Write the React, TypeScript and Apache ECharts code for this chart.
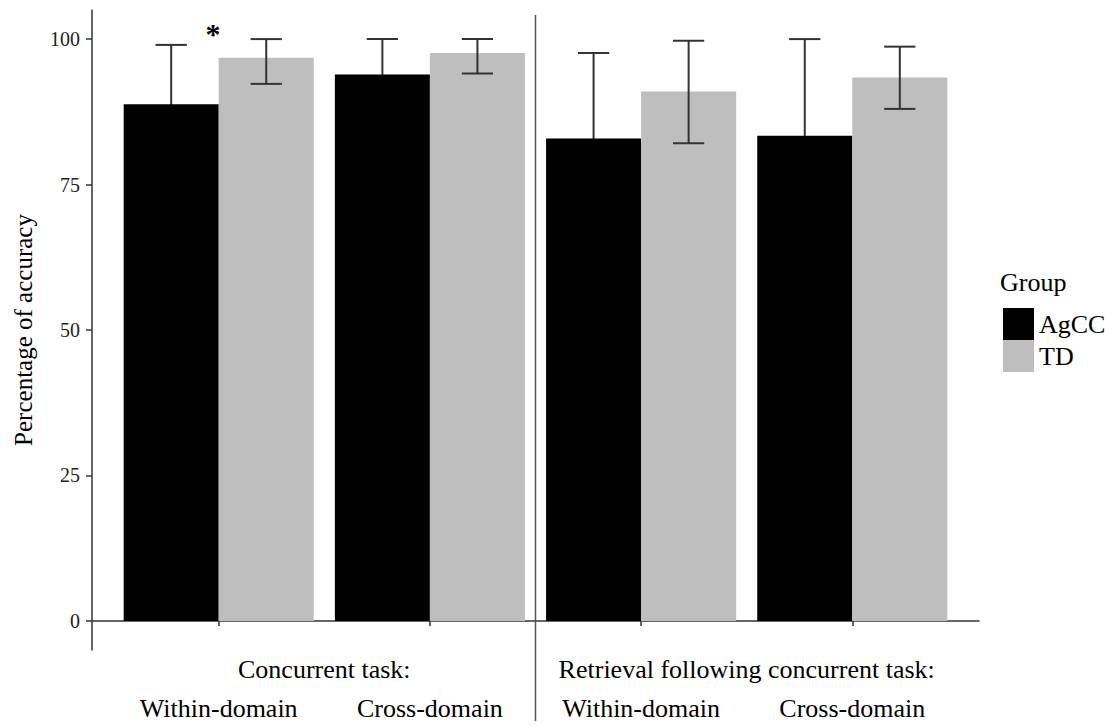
import React, { useEffect, useRef } from "react";
import * as echarts from "echarts";

const categories = ["Within-domain", "Cross-domain", "Within-domain", "Cross-domain"];
const categoryPositions = [1, 2, 3, 4];
const taskGroups = ["Concurrent task:", "Retrieval following concurrent task:"];
const taskGroupPositions = [1.5, 3.5];
const groupNames = ["AgCC", "TD"];
const groupColors = ["#000000", "#bebebe"];
const agccMean = [88.8, 93.9, 82.9, 83.4];
const agccLow = [78.6, 87.8, 68.2, 66.8];
const agccHigh = [99.0, 100, 97.6, 100];
const tdMean = [96.8, 97.6, 91.0, 93.4];
const tdLow = [92.3, 94.1, 82.1, 88.0];
const tdHigh = [100, 100, 99.7, 98.7];
const yTicks = [0, 25, 50, 75, 100];
const separatorAt = 2.5;
const significance = "*";

const FONT = "Liberation Serif";
const BAR_W = 0.45;
const CAP_HALF = 0.074;
const ERR_COLOR = "#333333";
const AXIS_COLOR = "#333333";

export default function App() {
  const ref = useRef<HTMLDivElement>(null);

  useEffect(() => {
    if (!ref.current) return;
    document.body.style.margin = "0";
    const chart = echarts.init(ref.current, undefined, { renderer: "svg" });

    const means = [agccMean, tdMean];
    const lows = [agccLow, tdLow];
    const highs = [agccHigh, tdHigh];
    const offsets = [-BAR_W, 0];
    const errZ = [1, 5];

    const barSeries = groupNames.map((name, g) => ({
      type: "custom",
      name,
      xAxisIndex: 0,
      yAxisIndex: 0,
      z: 2,
      itemStyle: { color: groupColors[g] },
      encode: { x: 0, y: 1 },
      data: categoryPositions.map((p, i) => [p, means[g][i]]),
      renderItem: (params: any, api: any) => {
        const x = api.value(0) as number;
        const v = api.value(1) as number;
        const tl = api.coord([x + offsets[g], v]);
        const br = api.coord([x + offsets[g] + BAR_W, 0]);
        return {
          type: "rect",
          shape: { x: tl[0], y: tl[1], width: br[0] - tl[0], height: br[1] - tl[1] },
          style: { fill: api.visual("color") },
        };
      },
    }));

    const errSeries = groupNames.map((name, g) => ({
      type: "custom",
      name: name + " error",
      xAxisIndex: 0,
      yAxisIndex: 0,
      z: errZ[g],
      encode: { x: 0, y: [1, 2] },
      data: categoryPositions.map((p, i) => [p, lows[g][i], highs[g][i]]),
      renderItem: (params: any, api: any) => {
        const x = (api.value(0) as number) + offsets[g] + BAR_W / 2;
        const lo = api.value(1) as number;
        const hi = api.value(2) as number;
        const pl = api.coord([x, lo]);
        const ph = api.coord([x, hi]);
        const cl = api.coord([x - CAP_HALF, lo]);
        const cr = api.coord([x + CAP_HALF, hi]);
        const style = { stroke: ERR_COLOR, lineWidth: 2 };
        return {
          type: "group",
          children: [
            { type: "line", shape: { x1: pl[0], y1: pl[1], x2: ph[0], y2: ph[1] }, style },
            { type: "line", shape: { x1: cl[0], y1: ph[1], x2: cr[0], y2: ph[1] }, style },
            { type: "line", shape: { x1: cl[0], y1: pl[1], x2: cr[0], y2: pl[1] }, style },
          ],
        };
      },
    }));

    const option: any = {
      animation: false,
      backgroundColor: "#ffffff",
      textStyle: { fontFamily: FONT },
      grid: { left: 92, right: 137, top: 10, bottom: 76, containLabel: false },
      legend: {
        orient: "vertical",
        left: 1003,
        top: 308,
        padding: 0,
        itemWidth: 31,
        itemHeight: 32,
        itemGap: 0,
        selectedMode: false,
        data: groupNames.map((n) => ({ name: n, icon: "rect" })),
        textStyle: { fontSize: 26, color: "#000", fontFamily: FONT },
      },
      xAxis: [
        {
          type: "value",
          min: 0.4,
          max: 4.6,
          position: "bottom",
          splitLine: { show: false },
          axisLine: { show: true, lineStyle: { color: AXIS_COLOR, width: 1.5 } },
          axisTick: { show: true, customValues: categoryPositions, length: 5, lineStyle: { color: AXIS_COLOR, width: 1.5 } },
          axisLabel: {
            customValues: categoryPositions,
            formatter: (v: number) => categories[Math.round(v) - 1] ?? "",
            margin: 45,
            fontSize: 26,
            color: "#000",
            fontFamily: FONT,
          },
        },
        {
          type: "value",
          min: 0.4,
          max: 4.6,
          position: "bottom",
          splitLine: { show: false },
          axisLine: { show: false },
          axisTick: { show: false },
          axisLabel: {
            customValues: taskGroupPositions,
            formatter: (v: number) => taskGroups[taskGroupPositions.indexOf(v)] ?? "",
            margin: 6,
            fontSize: 26,
            color: "#000",
            fontFamily: FONT,
          },
        },
      ],
      yAxis: {
        type: "value",
        min: -5,
        max: 105,
        splitLine: { show: false },
        axisLine: { show: true, lineStyle: { color: AXIS_COLOR, width: 1.5 } },
        axisTick: { show: true, customValues: yTicks, length: 6, lineStyle: { color: AXIS_COLOR, width: 1.5 } },
        axisLabel: { customValues: yTicks, margin: 12, fontSize: 20, color: "#222", fontFamily: FONT },
        name: "Percentage of accuracy",
        nameLocation: "middle",
        nameGap: 56,
        nameTextStyle: { fontSize: 25, color: "#000", fontFamily: FONT },
      },
      series: [...barSeries, ...errSeries],
    };

    chart.setOption(option);

    const sx = chart.convertToPixel({ xAxisIndex: 0 }, separatorAt) as number;
    chart.setOption({
      graphic: [
        {
          type: "line",
          shape: { x1: sx, y1: 15, x2: sx, y2: 721 },
          style: { stroke: "#555", lineWidth: 1.5 },
          z: 10,
        },
        {
          type: "text",
          x: 1000,
          y: 282,
          style: { text: "Group", fontSize: 26, fill: "#000", fontFamily: FONT, verticalAlign: "middle", align: "left" },
        },
        {
          type: "text",
          x: 213,
          y: 33,
          style: { text: significance, fontSize: 30, fontWeight: "bold", fill: "#000", fontFamily: FONT, verticalAlign: "middle", align: "center" },
        },
      ],
    });

    return () => chart.dispose();
  }, []);

  return <div ref={ref} style={{ position: "fixed", left: 0, top: 0, width: 1116, height: 726 }} />;
}
